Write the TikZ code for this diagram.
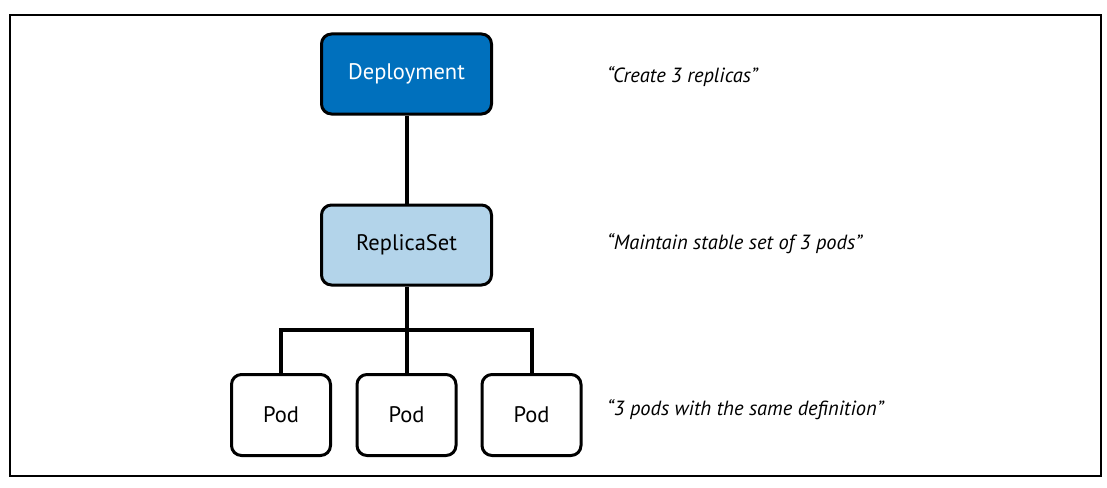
\documentclass[tikz,border=0pt]{standalone}
\usepackage{fontspec}
\setmainfont{PT Sans}
\definecolor{depblue}{HTML}{0070BD}
\definecolor{rsblue}{HTML}{B3D4EA}
\begin{document}
\begin{tikzpicture}[x=1pt,y=-1pt,
  box/.style={draw=black, line width=3pt, rounded corners=10pt, font=\fontsize{22.5}{27}\selectfont, inner sep=0pt},
  bigbox/.style={box, minimum width=170pt, minimum height=80pt},
  podbox/.style={box, minimum width=99pt, minimum height=81pt, fill=white},
  conn/.style={line width=4pt},
  note/.style={anchor=west, font=\fontsize{20.5}{24}\selectfont\itshape, inner sep=0pt}]
\useasboundingbox (0,0) rectangle (1107,487);
\draw[line width=1.6pt] (10,15) rectangle (1101,476);
\node[bigbox, fill=depblue, text=white] (dep) at (406.5,74) {Deployment};
\node[bigbox, fill=rsblue] (rs) at (406.5,245) {ReplicaSet};
\node[podbox] (p1) at (281,415) {Pod};
\node[podbox] (p2) at (406.5,415) {Pod};
\node[podbox] (p3) at (531.5,415) {Pod};
\coordinate (bar) at (406.5,330);
\draw[conn] (dep.south) -- (rs.north);
\draw[conn] (rs.south) -- (p2.north);
\draw[conn, line cap=rect] (p1.north) |- (bar) -| (p3.north);
\node[note] (n1) at (607,77) {“Create 3 replicas”};
\node[note] (n2) at (607,244) {“Maintain stable set of 3 pods”};
\node[note] (n3) at (607,410) {“3 pods with the same definition”};
\end{tikzpicture}
\end{document}
